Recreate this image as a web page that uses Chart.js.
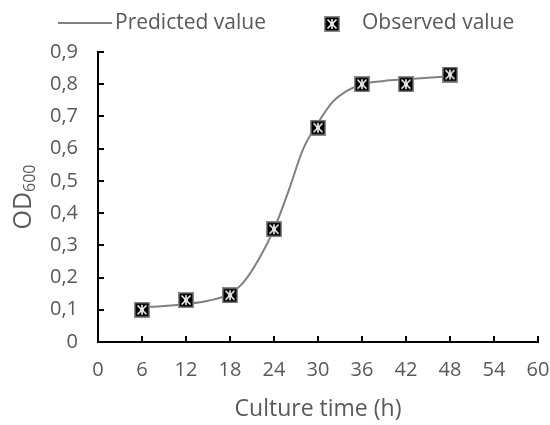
<!DOCTYPE html>
<html>
<head>
<meta charset="utf-8">
<script src="https://cdn.jsdelivr.net/npm/chart.js@4/dist/chart.umd.min.js"></script>
<style>
html,body{margin:0;padding:0;background:#fff;}
#wrap{width:550px;height:425px;position:relative;}
</style>
</head>
<body>
<div id="wrap"><canvas id="c" width="550" height="425"></canvas></div>
<script>
// Data
const observedTimes = [6, 12, 18, 24, 30, 36, 42, 48];
const observedOD = [0.10, 0.13, 0.145, 0.35, 0.665, 0.80, 0.80, 0.83];
const predictedTimes = [6, 9, 12, 15, 18, 20, 22, 24, 26, 28, 30, 32, 34, 36, 39, 42, 45, 48];
const predictedOD = [0.108, 0.112, 0.118, 0.128, 0.15, 0.19, 0.26, 0.35, 0.47, 0.60, 0.68, 0.745, 0.78, 0.80, 0.81, 0.815, 0.82, 0.825];
const xTicks = [0, 6, 12, 18, 24, 30, 36, 42, 48, 54, 60];
const yTicks = [0, 0.1, 0.2, 0.3, 0.4, 0.5, 0.6, 0.7, 0.8, 0.9];
const seriesNames = ['Predicted value', 'Observed value'];
const xTitle = 'Culture time (h)';

const FONT = "'Open Sans', 'Noto Sans', sans-serif";
const TXT = '#595959';

// marker image
function makeMarker(){
  const s = 16;
  const cv = document.createElement('canvas');
  cv.width = s; cv.height = s;
  const g = cv.getContext('2d');
  g.fillStyle = '#8a8a8a';
  g.fillRect(0,0,s,s);
  g.fillStyle = '#000';
  g.fillRect(1.5,1.5,s-3,s-3);
  g.strokeStyle = '#fff';
  g.lineWidth = 1.5;
  g.beginPath();
  g.moveTo(3.5,3.5); g.lineTo(s-3.5,s-3.5);
  g.moveTo(s-3.5,3.5); g.lineTo(3.5,s-3.5);
  g.moveTo(s/2,3); g.lineTo(s/2,s-3);
  g.stroke();
  g.fillStyle = '#ddd';
  g.fillRect(s/2-2, s/2-1.5, 4, 3);
  return cv;
}
const marker = makeMarker();

const decor = {
  id: 'decor',
  afterDraw(chart){
    const ctx = chart.ctx;
    const xs = chart.scales.x, ys = chart.scales.y;
    const a = chart.chartArea;
    ctx.save();
    // inward ticks
    ctx.strokeStyle = '#000';
    ctx.lineWidth = 2;
    ctx.beginPath();
    xTicks.forEach(v => { const px = Math.round(xs.getPixelForValue(v)); ctx.moveTo(px, a.bottom); ctx.lineTo(px, a.bottom - 6); });
    yTicks.forEach(v => { const py = Math.round(ys.getPixelForValue(v)); ctx.moveTo(a.left, py); ctx.lineTo(a.left + 6, py); });
    ctx.stroke();
    // legend
    ctx.strokeStyle = '#808080';
    ctx.lineWidth = 2;
    ctx.beginPath(); ctx.moveTo(58, 23); ctx.lineTo(112, 23); ctx.stroke();
    ctx.fillStyle = TXT;
    ctx.font = '21px ' + FONT;
    ctx.textBaseline = 'middle';
    ctx.textAlign = 'left';
    ctx.fillText(seriesNames[0], 115, 23);
    ctx.drawImage(marker, 324, 16);
    ctx.fillText(seriesNames[1], 362, 23);
    // x title
    ctx.font = '23px ' + FONT;
    ctx.textAlign = 'center';
    ctx.fillText(xTitle, (a.left + a.right) / 2, 409);
    // y title OD600
    ctx.translate(22, 197);
    ctx.rotate(-Math.PI/2);
    ctx.font = '25px ' + FONT;
    const w1 = ctx.measureText('OD').width;
    ctx.font = '16px ' + FONT;
    const w2 = ctx.measureText('600').width;
    const start = -(w1 + w2) / 2;
    ctx.textAlign = 'left';
    ctx.textBaseline = 'alphabetic';
    ctx.font = '25px ' + FONT;
    ctx.fillText('OD', start, 9);
    ctx.font = '16px ' + FONT;
    ctx.fillText('600', start + w1, 13);
    ctx.restore();
  }
};

new Chart(document.getElementById('c'), {
  type: 'scatter',
  data: {
    datasets: [
      {
        label: seriesNames[1],
        data: observedTimes.map((t,i) => ({x:t, y:observedOD[i]})),
        pointStyle: marker,
        pointRadius: 8,
        showLine: false,
        order: 0
      },
      {
        label: seriesNames[0],
        type: 'line',
        data: predictedTimes.map((t,i) => ({x:t, y:predictedOD[i]})),
        borderColor: '#808080',
        borderWidth: 2,
        pointRadius: 0,
        fill: false,
        cubicInterpolationMode: 'monotone',
        order: 1
      }
    ]
  },
  options: {
    responsive: false,
    animation: false,
    layout: { padding: { top: 52, right: 0, left: 0, bottom: 0 } },
    plugins: { legend: { display: false }, tooltip: { enabled: false } },
    scales: {
      x: {
        type: 'linear', min: 0, max: 60,
        afterBuildTicks: s => { s.ticks = xTicks.map(v => ({value: v})); },
        afterFit: s => { s.height = 83; s.paddingRight = 12; },
        grid: { display: false, drawTicks: false },
        border: { display: true, color: '#000', width: 2 },
        ticks: { padding: 16, color: TXT, font: { family: FONT, size: 20 }, maxRotation: 0, autoSkip: false,
          callback: v => String(v) }
      },
      y: {
        type: 'linear', min: 0, max: 0.9,
        afterBuildTicks: s => { s.ticks = yTicks.map(v => ({value: v})); },
        afterFit: s => { s.width = 98; },
        grid: { display: false, drawTicks: false },
        border: { display: true, color: '#000', width: 2 },
        ticks: { padding: 20, color: TXT, font: { family: FONT, size: 20 }, autoSkip: false,
          callback: v => v === 0 ? '0' : v.toFixed(1).replace('.', ',') }
      }
    }
  },
  plugins: [decor]
});
</script>
</body>
</html>
